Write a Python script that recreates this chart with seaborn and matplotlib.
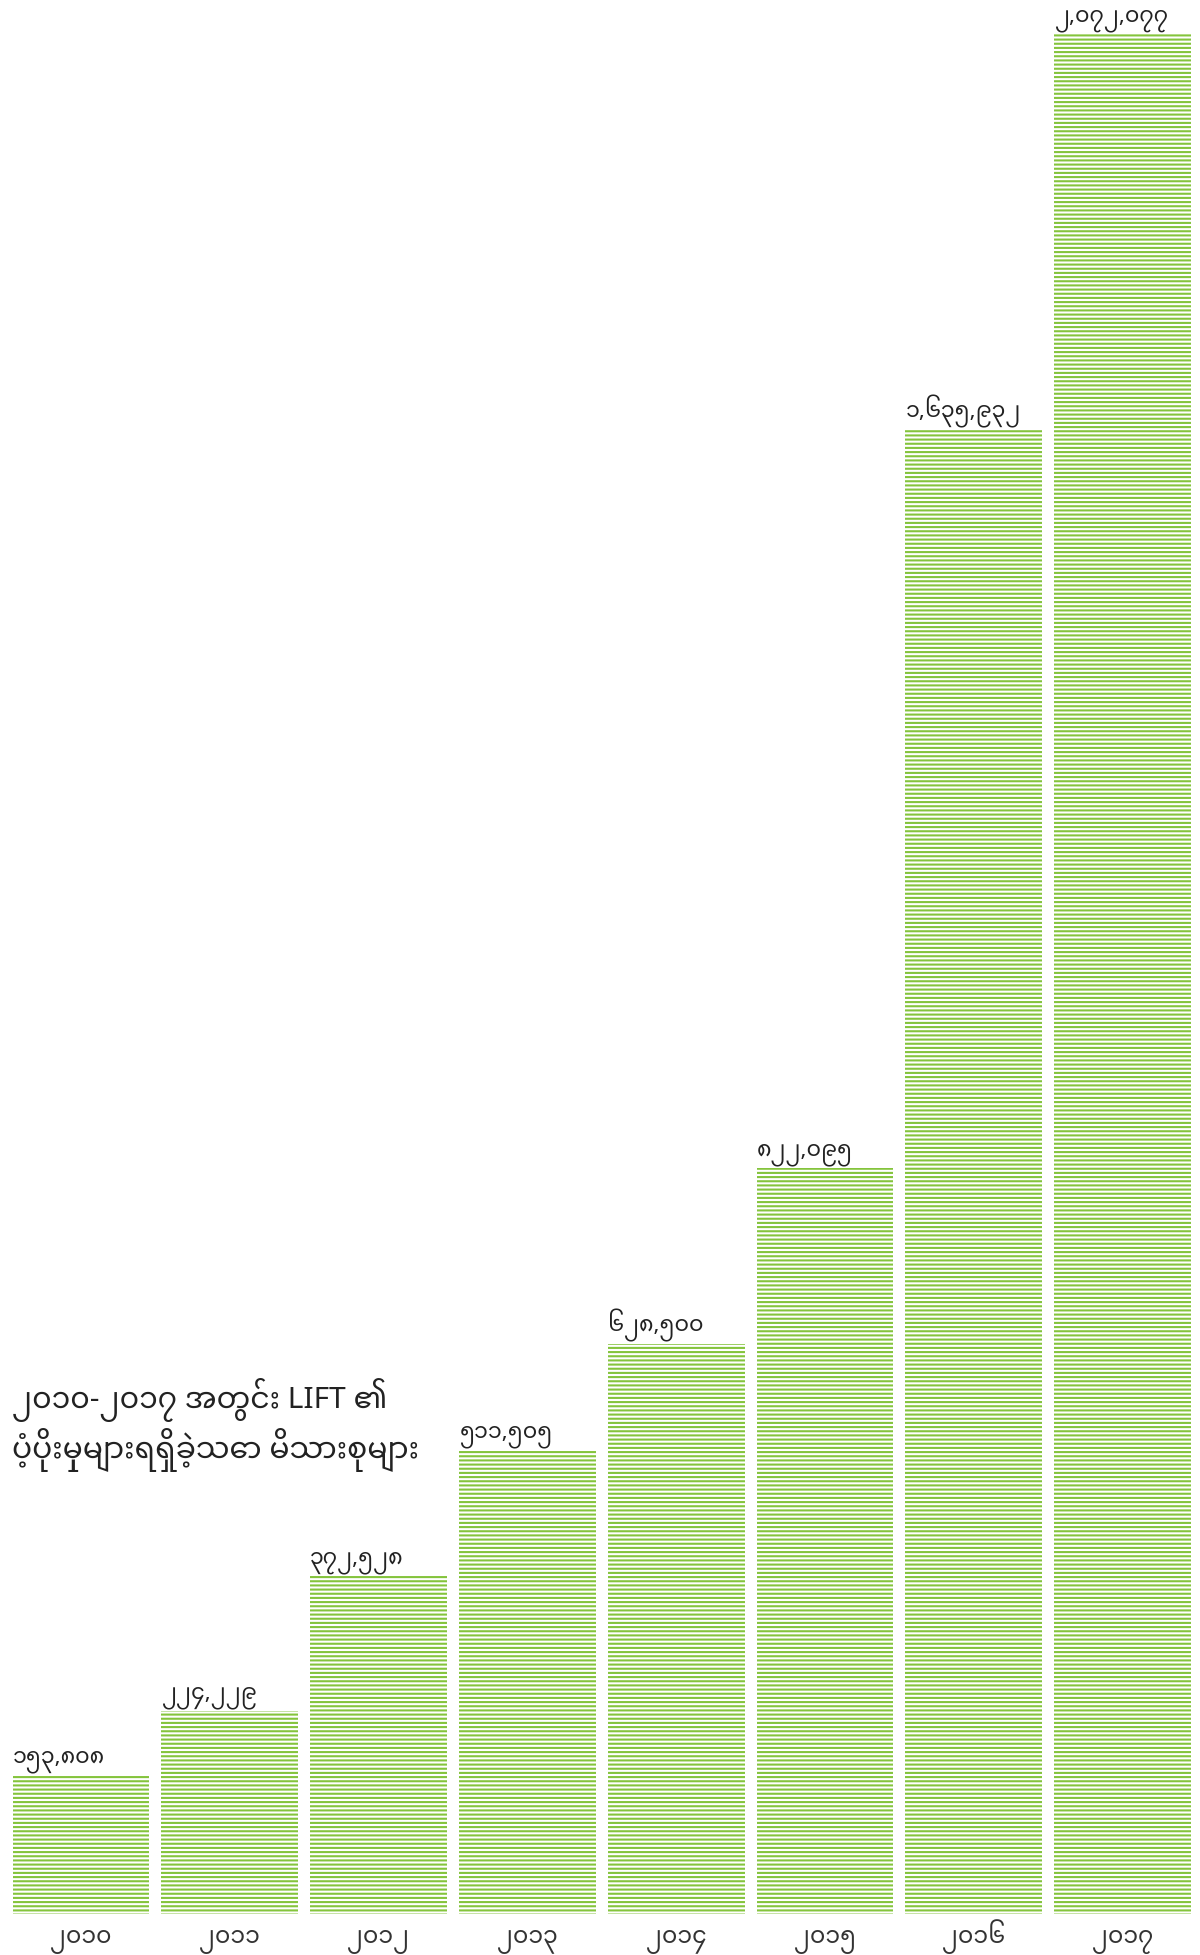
import numpy as np
import pandas as pd
import seaborn as sns
import matplotlib.pyplot as plt
from matplotlib import font_manager

# Data
years = ['2010', '2011', '2012', '2013', '2014', '2015', '2016', '2017']
households = [153808, 224229, 372528, 511505, 628500, 822095, 1635932, 2072077]
title_line1 = '၂၀၁၀-၂၀၁၇ အတွင်း LIFT ၏'
title_line2 = 'ပံ့ပိုးမှုများရရှိခဲ့သော မိသားစုများ'

# Western digits -> Myanmar digits
mm_digits = str.maketrans('0123456789', '၀၁၂၃၄၅၆၇၈၉')


def to_mm(s):
    return s.translate(mm_digits)


# Find an installed font with Myanmar glyphs; prefer a proper proportional one
def find_myanmar_font():
    try:
        from fontTools.ttLib import TTFont
    except ImportError:
        return None
    found = []
    for path in sorted(font_manager.findSystemFonts()):
        try:
            f = TTFont(path, fontNumber=0, lazy=True)
            cmap = f.getBestCmap()
            if not (cmap and 0x1000 in cmap and 0x1040 in cmap):
                continue
            name = font_manager.FontProperties(fname=path).get_name()
        except Exception:
            continue
        low = name.lower()
        if 'noto sans myanmar' in low and 'ui' not in low.split():
            score = 0
        elif 'myanmar' in low or 'padauk' in low or 'pyidaungsu' in low:
            score = 1
        elif 'unifont' in low or 'mono' in low:
            score = 3
        else:
            score = 2
        found.append((score, name))
    if not found:
        return None
    return sorted(found)[0][1]


sns.set_style('white')
mm_font = find_myanmar_font()
families = ([mm_font] if mm_font else []) + ['DejaVu Sans']
plt.rcParams['font.family'] = families
plt.rcParams['hatch.linewidth'] = 1.5
plt.rcParams['hatch.color'] = '#84c43c'

df = pd.DataFrame({'year': years, 'households': households})
df['year_label'] = [to_mm(y) for y in years]

fig = plt.figure(figsize=(12, 19.55), dpi=100)
ax = fig.add_axes([12.5 / 1200, 41 / 1955, 1178.5 / 1200, 1914 / 1955])

sns.barplot(data=df, x='year_label', y='households', color='white', width=0.92,
            edgecolor='#84c43c', linewidth=0, hatch='----', ax=ax)

ax.set_xlim(-0.46, 7.46)
ax.set_ylim(0, 2110000)
ax.set_xlabel('')
ax.set_ylabel('')
ax.set_yticks([])
ax.tick_params(axis='x', length=0, pad=21, labelsize=17, labelcolor='#333333')
for lbl in ax.get_xticklabels():
    lbl.set_verticalalignment('baseline')
sns.despine(ax=ax, left=True, bottom=True)

# value labels over each bar, left aligned to the bar edge
for i, v in enumerate(households):
    ax.annotate(to_mm(f'{v:,}'), (i - 0.46, v), xytext=(0, 9), textcoords='offset points',
                ha='left', va='baseline', fontsize=16, color='#222222')

fig.text(12 / 1200, 1 - 1408 / 1955, title_line1, fontsize=21.5, color='#222222', va='baseline')
fig.text(12 / 1200, 1 - 1458 / 1955, title_line2, fontsize=21.5, color='#222222', va='baseline')

fig.savefig('out.png', dpi=100)
